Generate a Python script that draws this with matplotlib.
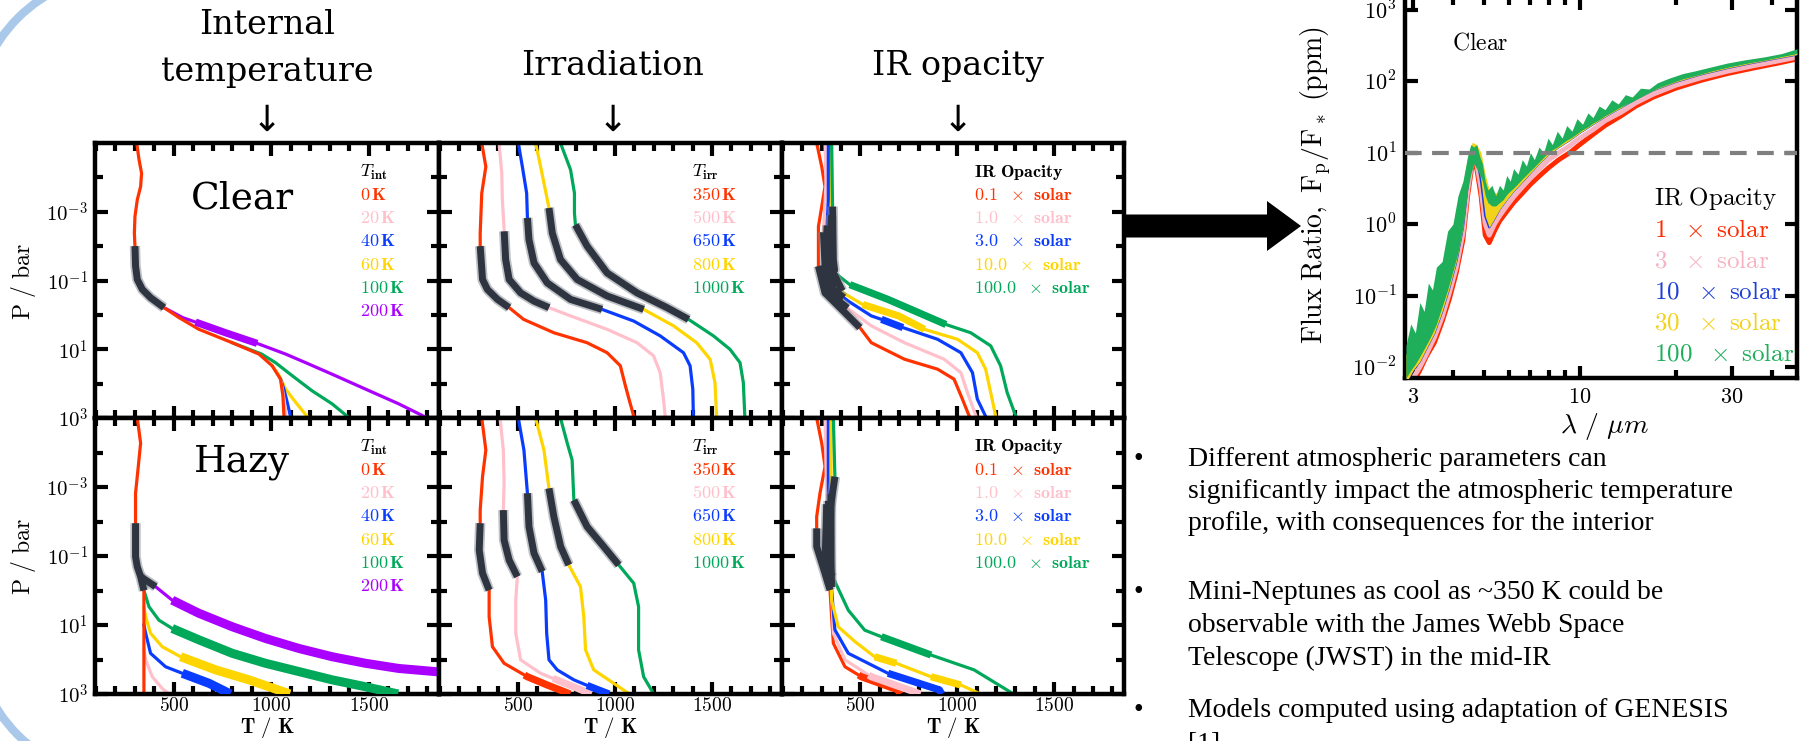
import numpy as np
import matplotlib
matplotlib.use("Agg")
import matplotlib.pyplot as plt
from matplotlib.patches import Arc, Polygon
from matplotlib.ticker import FixedLocator, NullFormatter
from matplotlib.transforms import IdentityTransform

plt.rcParams['mathtext.fontset'] = 'cm'
plt.rcParams['font.family'] = ['DejaVu Serif']

# ---------------- data: P-T profiles (log10 P / bar, T / K) ----------------
# internal temperature, clear
tint_clear_p_0 = [-5.0, -4.51, -4.12, -3.73, -3.35, -2.86, -2.38, -2.0, -1.42, -1.03, -0.74, -0.50, -0.21,
                  0.08, 0.42, 0.81, 1.14, 1.48, 1.87, 2.35, 3.0]
tint_clear_t_0 = [309, 321, 334, 329, 312, 300, 297, 300, 303, 312, 338, 380, 449,
                  526, 628, 799, 936, 1004, 1047, 1059, 1065]
tint_clear_p_20 = [1.87, 2.35, 3.0]
tint_clear_t_20 = [1047, 1062, 1078]
tint_clear_p_40 = [1.87, 2.20, 2.54, 3.0]
tint_clear_t_40 = [1047, 1066, 1081, 1100]
tint_clear_p_60 = [1.48, 1.77, 2.16, 2.54, 3.0]
tint_clear_t_60 = [1004, 1040, 1073, 1124, 1190]
tint_clear_p_100 = [0.81, 1.14, 1.39, 1.77, 2.21, 2.59, 3.0]
tint_clear_t_100 = [799, 950, 1021, 1107, 1209, 1312, 1400]
tint_clear_p_200 = [-0.21, 0.08, 0.21, 0.52, 0.83, 1.14, 1.43, 1.77, 2.16, 2.59, 3.0]
tint_clear_t_200 = [449, 545, 611, 765, 927, 1073, 1192, 1329, 1483, 1654, 1800]

# internal temperature, hazy
tint_hazy_p_0 = [-5.0, -4.27, -3.59, -2.82, -1.95, -0.98, -0.69, -0.40, 0.0, 3.0]
tint_hazy_t_0 = [312, 329, 317, 303, 303, 303, 312, 329, 346, 346]
tint_hazy_p_20 = [1.7, 2.01, 2.50, 2.84, 3.0]
tint_hazy_t_20 = [346, 355, 389, 440, 474]
tint_hazy_p_40 = [1.0, 1.24, 1.82, 2.21, 2.40, 2.69, 3.0]
tint_hazy_t_40 = [346, 355, 380, 457, 543, 680, 790]
tint_hazy_p_60 = [0.5, 0.76, 1.24, 1.63, 1.92, 2.30, 2.59, 3.0]
tint_hazy_t_60 = [346, 355, 380, 440, 534, 714, 885, 1095]
tint_hazy_p_100 = [0.0, 0.47, 0.86, 1.10, 1.43, 1.82, 2.11, 2.35, 2.59, 2.79, 3.0]
tint_hazy_t_100 = [346, 372, 423, 491, 628, 799, 970, 1141, 1312, 1483, 1650]
tint_hazy_p_200 = [-0.40, -0.11, 0.28, 0.66, 1.05, 1.39, 1.68, 1.92, 2.11, 2.26, 2.36]
tint_hazy_t_200 = [329, 406, 491, 628, 799, 970, 1141, 1312, 1483, 1654, 1860]

# irradiation temperature, clear
tirr_clear_p_350 = [-5.0, -4.31, -3.54, -2.38, -2.0, -1.03, -0.74, -0.45, -0.21, 0.13, 0.52, 0.81, 1.10, 1.48, 2.06, 2.5, 3.0]
tirr_clear_t_350 = [315, 336, 315, 307, 307, 319, 344, 396, 456, 530, 686, 857, 960, 1028, 1054, 1075, 1100]
tirr_clear_p_500 = [-5.0, -4.12, -3.35, -2.48, -1.61, -1.03, -0.64, -0.40, -0.21, 0.03, 0.42, 0.81, 1.19, 1.68, 2.45, 3.0]
tirr_clear_t_500 = [404, 418, 421, 430, 438, 456, 515, 584, 661, 772, 960, 1114, 1199, 1233, 1250, 1260]
tirr_clear_p_650 = [-5.0, -4.31, -3.54, -2.82, -2.19, -1.51, -0.93, -0.45, -0.16, 0.18, 0.61, 1.10, 1.48, 2.16, 3.0]
tirr_clear_t_650 = [503, 524, 546, 550, 558, 584, 652, 772, 934, 1097, 1233, 1353, 1387, 1401, 1404]
tirr_clear_p_800 = [-5.0, -4.31, -3.11, -2.38, -1.61, -1.03, -0.55, -0.16, 0.32, 0.81, 1.29, 1.97, 3.0]
tirr_clear_t_800 = [592, 618, 661, 678, 720, 806, 960, 1148, 1302, 1421, 1490, 1515, 1524]
tirr_clear_p_1000 = [-5.0, -4.22, -3.54, -2.96, -2.62, -2.0, -1.22, -0.64, -0.21, 0.13, 0.61, 1.00, 1.39, 1.97, 3.0]
tirr_clear_t_1000 = [720, 772, 792, 792, 797, 857, 960, 1114, 1268, 1379, 1507, 1592, 1644, 1661, 1669]

# irradiation temperature, hazy
tirr_hazy_p_350 = [-5.0, -4.07, -3.30, -2.33, -1.95, -1.17, -0.50, -0.01, 0.76, 1.63, 2.11, 2.50, 2.74, 3.0]
tirr_hazy_t_350 = [315, 336, 319, 307, 307, 302, 319, 353, 353, 370, 430, 550, 652, 770]
tirr_hazy_p_500 = [-5.0, -4.07, -3.11, -2.33, -1.46, -0.88, -0.40, 0.28, 1.24, 2.01, 2.40, 2.64, 3.0]
tirr_hazy_t_500 = [409, 426, 430, 426, 430, 456, 498, 490, 490, 515, 618, 721, 880]
tirr_hazy_p_650 = [-5.0, -4.07, -2.82, -1.85, -1.08, -0.55, 0.28, 1.24, 2.01, 2.30, 2.59, 2.79, 3.0]
tirr_hazy_t_650 = [503, 532, 550, 558, 584, 626, 644, 649, 661, 703, 789, 874, 970]
tirr_hazy_p_800 = [-5.0, -4.07, -2.96, -2.14, -1.27, -0.74, -0.11, 0.76, 1.72, 2.30, 2.69, 3.0]
tirr_hazy_t_800 = [592, 635, 661, 686, 721, 763, 823, 840, 849, 891, 994, 1075]
tirr_hazy_p_1000 = [-5.0, -4.27, -3.78, -2.62, -1.85, -1.27, -0.74, -0.21, 0.47, 1.72, 2.50, 3.0]
tirr_hazy_t_1000 = [720, 755, 780, 789, 857, 943, 1020, 1097, 1122, 1122, 1148, 1200]

# IR opacity, clear
kir_clear_p_01 = [-5.0, -4.31, -3.73, -3.15, -2.57, -1.42, -0.64, -0.26, 0.37, 0.81, 1.29, 1.58, 1.87, 2.45, 3.0]
kir_clear_t_01 = [274, 300, 317, 300, 283, 283, 317, 385, 497, 556, 727, 898, 983, 1026, 1065]
kir_clear_p_1 = [-5.0, -3.83, -2.38, -1.42, -0.64, -0.26, -0.11, 0.32, 0.81, 1.29, 1.68, 2.26, 3.0]
kir_clear_t_1 = [317, 322, 309, 317, 334, 420, 453, 556, 727, 932, 1018, 1052, 1100]
kir_clear_p_3 = [-5.0, -3.35, -2.38, -1.42, -0.74, -0.40, 0.03, 0.13, 0.37, 0.71, 1.10, 1.68, 2.45, 3.0]
kir_clear_t_3 = [334, 334, 326, 343, 360, 437, 556, 608, 719, 898, 1018, 1078, 1103, 1150]
kir_clear_p_10 = [-5.0, -3.15, -1.42, -0.64, -0.30, 0.03, 0.42, 0.71, 1.10, 1.58, 2.26, 3.0]
kir_clear_t_10 = [351, 351, 343, 411, 512, 697, 830, 1001, 1103, 1146, 1172, 1200]
kir_clear_p_100 = [-5.0, -3.15, -1.61, -1.22, -0.88, -0.45, 0.28, 0.52, 0.90, 1.48, 2.26, 3.0]
kir_clear_t_100 = [351, 356, 360, 368, 445, 642, 941, 1069, 1172, 1223, 1257, 1305]

# IR opacity, hazy
kir_hazy_p_01 = [-5.0, -4.27, -3.59, -2.82, -2.14, -1.27, -0.50, -0.01, 0.76, 1.53, 2.21, 2.50, 2.88, 3.0]
kir_hazy_t_01 = [274, 300, 317, 291, 274, 274, 317, 343, 351, 360, 420, 505, 693, 705]
kir_hazy_p_1 = [-5.0, -2.62, -0.69, -0.01, 1.24, 2.01, 2.50, 3.0]
kir_hazy_t_1 = [317, 326, 317, 351, 360, 420, 556, 810]
kir_hazy_p_3 = [-5.0, -2.62, -0.01, 1.14, 1.82, 2.40, 2.88, 3.0]
kir_hazy_t_3 = [334, 334, 351, 368, 437, 642, 907, 920]
kir_hazy_p_10 = [-5.0, -2.82, -0.40, 0.28, 1.05, 1.48, 1.92, 2.11, 2.50, 2.74, 3.0]
kir_hazy_t_10 = [348, 348, 348, 351, 385, 471, 573, 685, 864, 1018, 1120]
kir_hazy_p_100 = [-5.0, -3.30, -2.33, -1.46, -0.79, -0.26, 0.57, 1.15, 1.34, 1.87, 2.30, 3.0]
kir_hazy_t_100 = [360, 368, 343, 326, 317, 368, 437, 522, 608, 864, 1086, 1290]

# legend labels
tint_labels = ['0', '20', '40', '60', '100', '200']
tirr_labels = ['350', '500', '650', '800', '1000']
kir_labels = ['0.1', '1.0', '3.0', '10.0', '100.0']

# ---------------- data: emission spectra (wavelength / um, ppm) ----------------
spec_wl = [2.85, 3.0, 3.15, 3.3, 3.5, 3.7, 3.9, 4.1, 4.3, 4.45, 4.6, 4.75, 4.9, 5.05, 5.2, 5.4, 5.6, 5.9,
           6.2, 6.6, 7.0, 7.5, 8.0, 8.6, 9.3, 10, 11, 12, 13.5, 15, 17, 20, 24, 29, 35, 42, 48]
spec_1x = [0.004, 0.006, 0.009, 0.014, 0.022, 0.043, 0.09, 0.21, 0.6, 2.5, 7, 6, 2.5, 0.7, 0.55, 0.8, 1.1, 1.5,
           2.0, 2.7, 3.6, 4.8, 6.2, 8.0, 10, 13, 18, 24, 33, 45, 60, 80, 103, 128, 153, 180, 205]
spec_3x = [0.005, 0.007, 0.01, 0.015, 0.026, 0.05, 0.11, 0.25, 0.75, 3.0, 8, 7, 3.2, 1.0, 0.7, 1.0, 1.3, 1.8,
           2.4, 3.3, 4.4, 6.0, 8.0, 10, 12.5, 16, 21, 28, 37, 50, 66, 88, 112, 138, 165, 193, 218]
spec_10x = [0.006, 0.009, 0.012, 0.018, 0.03, 0.06, 0.13, 0.3, 0.9, 3.5, 9, 9, 4, 1.3, 0.9, 1.2, 1.6, 2.2,
            2.9, 3.9, 5.2, 7.2, 9.5, 12, 15, 19, 25, 32, 43, 57, 75, 98, 125, 153, 182, 212, 237]
spec_30x_top = [0.015, 0.025, 0.04, 0.07, 0.12, 0.22, 0.45, 1.0, 3.5, 9, 14, 13, 10, 5, 3, 2.8, 2.6, 3.5,
                3.6, 5.0, 6.5, 8.5, 11, 14, 17, 24, 30, 40, 50, 65, 80, 108, 130, 160, 190, 222, 250]
green_wl = [2.85, 2.95, 3.05, 3.15, 3.25, 3.35, 3.45, 3.55, 3.7, 3.85, 4.0, 4.15, 4.3, 4.45, 4.55, 4.65, 4.75,
            4.85, 4.95, 5.05, 5.15, 5.3, 5.45, 5.6, 5.75, 5.9, 6.05, 6.2, 6.4, 6.6, 6.8, 7.0, 7.2, 7.45, 7.7,
            7.95, 8.2, 8.5, 8.8, 9.1, 9.45, 9.8, 10.2, 10.6, 11.0, 11.5, 12.0, 12.6, 13.2, 13.9, 14.6, 15.5,
            16.5, 17.5, 19, 21, 23, 26, 29, 33, 38, 43, 48]
spec_100x_low = [0.007, 0.009, 0.011, 0.014, 0.018, 0.023, 0.03, 0.04, 0.07, 0.12, 0.22, 0.4, 0.9, 3, 5, 7,
                 6, 5, 4, 2.5, 2.0, 1.8, 1.8, 2.0, 2.2, 2.6, 2.9, 3.2, 3.7, 4.3, 4.9, 5.6, 6.3, 7.4, 8.6,
                 10, 11, 12, 13.5, 15, 16.5, 18.5, 21, 23, 26, 29, 33, 37, 42, 47, 52, 60,
                 70, 80, 92, 108, 120, 140, 157, 177, 198, 222, 245]
spec_100x_top = [0.02, 0.04, 0.03, 0.08, 0.06, 0.15, 0.12, 0.25, 0.3, 0.8, 1.0, 2.5, 4, 9, 13, 12,
                 13, 9, 7, 4, 3, 3.5, 2.5, 3.5, 3, 4.8, 4, 6, 5, 8, 6.5, 10, 8, 12, 10,
                 16, 13, 20, 16, 24, 20, 30, 25, 36, 31, 45, 40, 55, 48, 65, 60, 80,
                 78, 95, 110, 128, 140, 160, 180, 200, 220, 245, 285]
spec_labels = ['1', '3', '10', '30', '100']
detect_limit = 10

bullets = [
    ['Different atmospheric parameters can',
     'significantly impact the atmospheric temperature',
     'profile, with consequences for the interior'],
    ['Mini-Neptunes as cool as ~350 K could be',
     'observable with the James Webb Space',
     'Telescope (JWST) in the mid-IR'],
    ['Models computed using adaptation of GENESIS',
     '[1]'],
]

RED, PINK, BLUE, YEL, GRN, PUR = '#ff3300', '#ffc0cb', '#0a3cff', '#ffd500', '#00a85a', '#aa00ff'
GRAY_DARK, GRAY_HALO = '#2e3440', '#8a8f96'
S_RED, S_PINK, S_BLUE, S_YEL, S_GRN = '#ff2a00', '#f7b3c2', '#1f3fd6', '#f3d21a', '#1fae5a'

W, H = 1808, 741
fig = plt.figure(figsize=(W / 100, H / 100), dpi=100)
fig.patch.set_facecolor('white')


def box(x0, y0, x1, y1):
    return [x0 / W, 1 - y1 / H, (x1 - x0) / W, (y1 - y0) / H]


def fpos(x, y):
    return x / W, 1 - y / H


def piece(lp, t, lo, hi):
    lp = np.asarray(lp, float)
    t = np.asarray(t, float)
    lo, hi = max(lo, lp[0]), min(hi, lp[-1])
    inside = (lp > lo) & (lp < hi)
    ps = np.concatenate([[lo], lp[inside], [hi]])
    return np.interp(ps, lp, t), 10 ** ps


# curves: (color, logp, temp, gray ranges, thick ranges)
panels = {
    (0, 0): [(PUR, tint_clear_p_200, tint_clear_t_200, [], [(0.21, 0.83)]),
             (GRN, tint_clear_p_100, tint_clear_t_100, [], []),
             (YEL, tint_clear_p_60, tint_clear_t_60, [], []),
             (BLUE, tint_clear_p_40, tint_clear_t_40, [], []),
             (PINK, tint_clear_p_20, tint_clear_t_20, [], []),
             (RED, tint_clear_p_0, tint_clear_t_0, [(-2.0, -0.21)], [])],
    (1, 0): [(PUR, tint_hazy_p_200, tint_hazy_t_200, [(-0.40, -0.11)], [(0.28, 2.4)]),
             (GRN, tint_hazy_p_100, tint_hazy_t_100, [], [(1.10, 3.0)]),
             (YEL, tint_hazy_p_60, tint_hazy_t_60, [], [(1.92, 3.0)]),
             (BLUE, tint_hazy_p_40, tint_hazy_t_40, [], [(2.40, 3.0)]),
             (PINK, tint_hazy_p_20, tint_hazy_t_20, [], []),
             (RED, tint_hazy_p_0, tint_hazy_t_0, [(-1.95, 0.0)], [])],
    (0, 1): [(RED, tirr_clear_p_350, tirr_clear_t_350, [(-2.0, -0.21)], []),
             (PINK, tirr_clear_p_500, tirr_clear_t_500, [(-2.43, -0.21)], []),
             (BLUE, tirr_clear_p_650, tirr_clear_t_650, [(-2.82, -0.16)], []),
             (YEL, tirr_clear_p_800, tirr_clear_t_800, [(-3.11, -0.16)], []),
             (GRN, tirr_clear_p_1000, tirr_clear_t_1000, [(-2.62, 0.13)], [])],
    (1, 1): [(RED, tirr_hazy_p_350, tirr_hazy_t_350, [(-1.95, -0.01)], [(2.45, 3.0)]),
             (PINK, tirr_hazy_p_500, tirr_hazy_t_500, [(-2.33, -0.40)], [(2.55, 3.0)]),
             (BLUE, tirr_hazy_p_650, tirr_hazy_t_650, [(-2.82, -0.55)], [(2.75, 3.0)]),
             (YEL, tirr_hazy_p_800, tirr_hazy_t_800, [(-2.96, -0.74)], []),
             (GRN, tirr_hazy_p_1000, tirr_hazy_t_1000, [(-2.62, -0.74)], [])],
    (0, 2): [(RED, kir_clear_p_01, kir_clear_t_01, [(-1.42, 0.37)], []),
             (PINK, kir_clear_p_1, kir_clear_t_1, [(-2.4, -0.2)], []),
             (BLUE, kir_clear_p_3, kir_clear_t_3, [(-2.6, -0.5)], [(0.13, 0.37)]),
             (YEL, kir_clear_p_10, kir_clear_t_10, [(-2.9, -0.7)], [(-0.30, 0.42)]),
             (GRN, kir_clear_p_100, kir_clear_t_100, [(-3.15, -1.2)], [(-0.88, 0.28)])],
    (1, 2): [(RED, kir_hazy_p_01, kir_hazy_t_01, [(-1.8, -0.01)], [(2.45, 3.0)]),
             (PINK, kir_hazy_p_1, kir_hazy_t_1, [(-2.5, -0.2)], [(2.45, 3.0)]),
             (BLUE, kir_hazy_p_3, kir_hazy_t_3, [(-2.6, -0.1)], [(2.40, 3.0)]),
             (YEL, kir_hazy_p_10, kir_hazy_t_10, [(-2.8, -0.2)], [(1.92, 2.11), (2.50, 2.74)]),
             (GRN, kir_hazy_p_100, kir_hazy_t_100, [(-3.30, -0.4)], [(1.34, 1.87)])],
}

legend_info = [
    (r'$T_{\mathbf{int}}$', [r'$\mathbf{%s\,K}$' % s for s in tint_labels], [RED, PINK, BLUE, YEL, GRN, PUR], 360),
    (r'$T_{\mathbf{irr}}$', [r'$\mathbf{%s\,K}$' % s for s in tirr_labels], [RED, PINK, BLUE, YEL, GRN], 692),
    (r'$\mathbf{IR\ Opacity}$', [r'$\mathbf{%s\ \ \times\ solar}$' % s for s in kir_labels],
     [RED, PINK, BLUE, YEL, GRN], 974),
]

col_x = [95, 439, 782, 1124]
row_y = [143, 418, 694]

for (r, c), curves in panels.items():
    ax = fig.add_axes(box(col_x[c], row_y[r], col_x[c + 1], row_y[r + 1]))
    ax.set_yscale('log')
    ax.set_xlim(95, 1860)
    ax.set_ylim(1e3, 1e-5)
    thick_lw = 6.5 if (r, c) == (1, 0) else 5.2
    for color, lp, t, grays, thicks in curves:
        ax.plot(t, 10 ** np.asarray(lp), color=color, lw=2.3, zorder=2)
        for lo, hi in thicks:
            tt, pp = piece(lp, t, lo, hi)
            ax.plot(tt, pp, color=color, lw=thick_lw, solid_capstyle='butt', zorder=3)
    for color, lp, t, grays, thicks in curves:
        for lo, hi in grays:
            tt, pp = piece(lp, t, lo, hi)
            ax.plot(tt, pp, color=GRAY_HALO, lw=7.5, alpha=0.55, solid_capstyle='butt', zorder=4)
            ax.plot(tt, pp, color=GRAY_DARK, lw=5, solid_capstyle='butt', zorder=5)

    ax.yaxis.set_major_locator(FixedLocator([1e-3, 1e-1, 1e1, 1e3]))
    ax.yaxis.set_minor_locator(FixedLocator([1e-4, 1e-2, 1e0, 1e2]))
    ax.yaxis.set_minor_formatter(NullFormatter())
    ax.xaxis.set_major_locator(FixedLocator([500, 1000, 1500]))
    ax.xaxis.set_minor_locator(FixedLocator([v for v in range(100, 1900, 100) if v % 500]))
    ax.tick_params(which='both', direction='in', top=True, right=True, width=3, color='black')
    ax.tick_params(which='major', length=9)
    ax.tick_params(which='minor', length=5.5)
    ax.tick_params(axis='y', pad=5)
    ax.tick_params(axis='x', pad=2)
    if c == 0:
        ax.set_yticklabels([r'$10^{-3}$', r'$10^{-1}$', r'$10^{1}$', r'$10^{3}$'], fontsize=15)
    else:
        ax.tick_params(labelleft=False)
    if r == 1:
        ax.set_xticklabels([r'$\mathbf{500}$', r'$\mathbf{1000}$', r'$\mathbf{1500}$'], fontsize=14)
    else:
        ax.tick_params(labelbottom=False)
    for s in ax.spines.values():
        s.set_linewidth(3.2)

    title, entries, colors, lx = legend_info[c]
    top = row_y[r]
    fig.text(*fpos(lx, top + 29), title, fontsize=13, va='center', ha='left')
    for i, (txt, col) in enumerate(zip(entries, colors)):
        fig.text(*fpos(lx, top + 52 + 23.2 * i), txt, color=col, fontsize=13, va='center', ha='left')

# row / column annotations
fig.text(*fpos(242, 198), 'Clear', fontsize=27, ha='center', va='center')
fig.text(*fpos(242, 462), 'Hazy', fontsize=27, ha='center', va='center')
for yc in (281, 556):
    fig.text(*fpos(23, yc), r'$\mathrm{P\ /\ bar}$', fontsize=17, rotation=90, ha='center', va='center')
for xc in (267, 610, 953):
    fig.text(*fpos(xc, 740), r'$\mathbf{T\ /\ K}$', fontsize=15, ha='center', va='bottom')

fig.text(*fpos(267, 25), 'Internal', fontsize=24, ha='center', va='center')
fig.text(*fpos(267, 72), 'temperature', fontsize=24, ha='center', va='center')
fig.text(*fpos(613, 66), 'Irradiation', fontsize=24, ha='center', va='center')
fig.text(*fpos(958, 66), 'IR opacity', fontsize=24, ha='center', va='center')
for xc in (267, 613, 958):
    fig.text(*fpos(xc, 121), '\u2193', fontsize=26, ha='center', va='center', family='DejaVu Sans')

# ---------------- spectrum panel ----------------
axs = fig.add_axes(box(1405, -3, 1797, 378))
axs.set_xscale('log')
axs.set_yscale('log')
axs.set_xlim(2.83, 48)
axs.set_ylim(10 ** -2.154, 10 ** 3.18)
axs.plot(spec_wl, spec_1x, color=S_RED, lw=3.5, zorder=2)
axs.plot(spec_wl, spec_3x, color=S_PINK, lw=3.5, zorder=2.5)
axs.plot(spec_wl, spec_10x, color=S_BLUE, lw=1.6, zorder=2.8)
axs.fill_between(spec_wl, spec_10x, spec_30x_top, color=S_YEL, lw=0, zorder=3)
axs.fill_between(green_wl, spec_100x_low, spec_100x_top, color=S_GRN, lw=0, zorder=4)
axs.axhline(detect_limit, color='#7f7f7f', lw=3, ls=(0, (4, 2.5)), zorder=6)

axs.yaxis.set_major_locator(FixedLocator([1e-2, 1e-1, 1e0, 1e1, 1e2, 1e3]))
axs.yaxis.set_minor_locator(FixedLocator([]))
axs.set_yticklabels([r'$10^{-2}$', r'$10^{-1}$', r'$10^{0}$', r'$10^{1}$', r'$10^{2}$', r'$10^{3}$'], fontsize=16)
axs.xaxis.set_major_locator(FixedLocator([3, 10, 30]))
axs.xaxis.set_minor_locator(FixedLocator([4, 5, 6, 7, 8, 9, 20, 40]))
axs.xaxis.set_minor_formatter(NullFormatter())
axs.set_xticklabels([r'$\mathbf{3}$', r'$\mathbf{10}$', r'$\mathbf{30}$'], fontsize=16)
axs.tick_params(which='both', direction='in', top=True, right=True, width=3)
axs.tick_params(which='major', length=9, pad=6)
axs.tick_params(which='minor', length=6)
for s in axs.spines.values():
    s.set_linewidth(3.2)

fig.text(*fpos(1316, 185), r'$\mathrm{Flux\ Ratio,\ F_p/F_*\ (ppm)}$', fontsize=20, rotation=90,
         ha='center', va='center')
fig.text(*fpos(1604, 427), r'$\lambda\ /\ \mu m$', fontsize=20, ha='center', va='center')
fig.text(*fpos(1480, 43), r'$\mathrm{Clear}$', fontsize=17, ha='center', va='center')
fig.text(*fpos(1654, 199), r'$\mathrm{IR\ Opacity}$', fontsize=18, ha='left', va='center')
for i, (lab, col) in enumerate(zip(spec_labels, [S_RED, S_PINK, S_BLUE, S_YEL, S_GRN])):
    fig.text(*fpos(1654, 230 + 31 * i), r'$\mathrm{%s\ \ \times\ solar}$' % lab, color=col, fontsize=18,
             ha='left', va='center')

# big arrow between the figure blocks
arrow_px = [(1124, 214.5), (1267, 214.5), (1267, 201), (1301, 226), (1267, 251), (1267, 237.5), (1124, 237.5)]
fig.patches.append(Polygon([fpos(x, y) for x, y in arrow_px], closed=True, facecolor='black',
                           edgecolor='none', transform=fig.transFigure))

# slide frame corners
for cy, t1, t2 in ((124, 90, 180), (629, 180, 270)):
    fig.patches.append(Arc((124, H - cy), 300, 300, theta1=t1, theta2=t2, color='#a9c8ea', lw=6,
                           transform=IdentityTransform()))

# bullet text
line_y = [[466, 498, 530], [599, 632, 665], [717, 751]]
for lines, ys in zip(bullets, line_y):
    fig.text(*fpos(1138, ys[0]), '\u2022', fontsize=20, family='Liberation Serif', ha='center', va='baseline')
    for txt, y in zip(lines, ys):
        fig.text(*fpos(1188, y), txt, fontsize=20, family='Liberation Serif', ha='left', va='baseline')

fig.savefig('out.png', dpi=100)
